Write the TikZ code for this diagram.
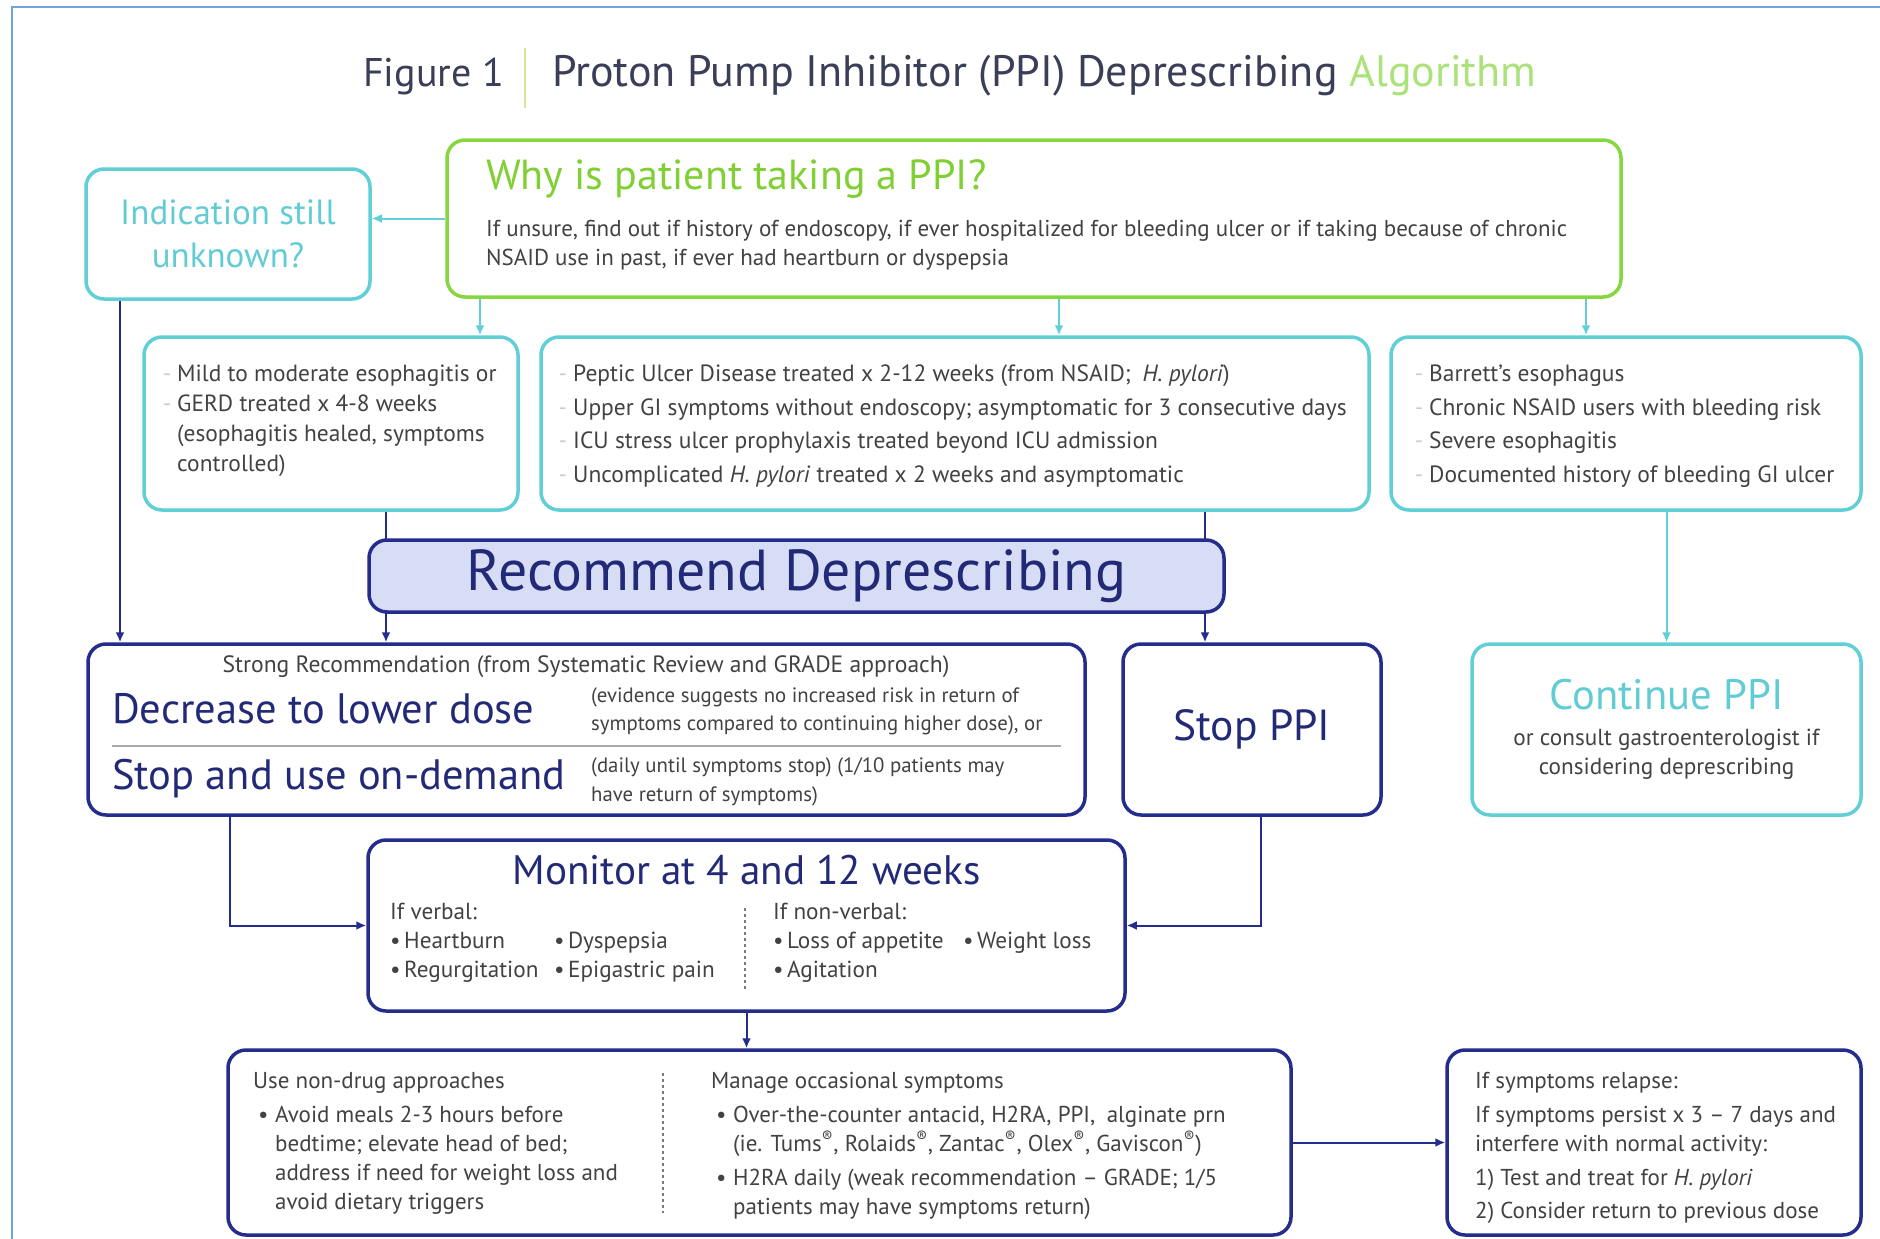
\documentclass[tikz,border=0pt]{standalone}
\usepackage{fontspec}
\setmainfont{PT Sans}
\usetikzlibrary{arrows.meta}
\definecolor{verde}{RGB}{134,214,64}
\definecolor{verdetxt}{RGB}{128,208,52}
\definecolor{cian}{RGB}{96,207,214}
\definecolor{ciantxt}{RGB}{98,204,212}
\definecolor{azul}{RGB}{36,44,140}
\definecolor{azultxt}{RGB}{34,42,120}
\definecolor{lila}{RGB}{216,221,246}
\definecolor{gris}{RGB}{66,66,66}
\definecolor{tenue}{RGB}{205,205,205}
\definecolor{marco}{RGB}{110,165,225}
\definecolor{tinta}{RGB}{58,62,88}
\definecolor{algo}{RGB}{172,226,122}
\definecolor{barra}{RGB}{222,226,150}
\newcommand{\fdash}{\llap{\textcolor{tenue}{-}\hspace{6pt}}}
\newcommand{\bul}[1][14pt]{\makebox[#1][l]{\textbullet}}
\begin{document}
\begin{tikzpicture}[x=1pt,y=-1pt,
    caja/.style={line width=3.5pt,rounded corners=18pt,inner sep=0pt},
    cajaverde/.style={caja,draw=verde},
    cajacian/.style={caja,draw=cian},
    cajaazul/.style={caja,draw=azul},
    texto/.style={text=gris,align=left,inner sep=0pt,font=\fontsize{23}{31}\selectfont},
    titular/.style={inner sep=0pt,text=azultxt,font=\fontsize{42.5}{44}\selectfont},
    flechacian/.style={draw=cian,line width=2pt,-{Latex[length=10pt,width=9pt]}},
    flechaazul/.style={draw=azul,line width=2pt,-{Latex[length=10pt,width=9pt]}}]
    \useasboundingbox (0,0) rectangle (1880,1239);
    \fill[white] (0,0) rectangle (1880,1239);
    \draw[marco,line width=2pt] (12,1239) -- (12,7) -- (1880,7); % marco
    % titulo
    \node[anchor=west,inner sep=0pt,text=tinta,font=\fontsize{40}{44}\selectfont] (fig) at (363,76) {Figure 1};
    \draw[barra,line width=2pt] (525,48) -- (525,108);
    \node[anchor=west,inner sep=0pt,text=tinta,font=\fontsize{44}{46}\selectfont] (nombre) at (552,76) {Proton Pump Inhibitor (PPI) Deprescribing \textcolor{algo}{Algorithm}};
    % pregunta inicial
    \node[cajaverde,minimum width=1174pt,minimum height=157pt] (por) at (1034,218.5) {};
    \node[anchor=west,inner sep=0pt,text=verdetxt,font=\fontsize{42}{44}\selectfont] (porT) at (486,179) {Why is patient taking a PPI?};
    \node[texto,font=\fontsize{23}{29}\selectfont,anchor=west] (porB) at (486,245) {If unsure, find out if history of endoscopy, if ever hospitalized for bleeding ulcer or if taking because of chronic\\NSAID use in past, if ever had heartburn or dyspepsia};
    \node[cajacian,minimum width=284pt,minimum height=130pt,align=center,text=ciantxt,font=\fontsize{35}{43}\selectfont] (duda) at (228,234) {Indication still\\unknown?};
    % indicaciones
    \node[cajacian,minimum width=374pt,minimum height=173pt] (cajaA) at (331,423.5) {};
    \node[texto,font=\fontsize{23.4}{30}\selectfont,anchor=west] (tA) at (177,421) {\fdash Mild to moderate esophagitis or\\\fdash GERD treated x 4-8 weeks\\(esophagitis healed, symptoms\\controlled)};
    \node[cajacian,minimum width=828pt,minimum height=173pt] (cajaB) at (955,423.5) {};
    \node[texto,font=\fontsize{23.5}{33.5}\selectfont,anchor=west] (tB) at (573,426) {\fdash Peptic Ulcer Disease treated x 2-12 weeks (from NSAID;\enspace\textit{H. pylori})\\\fdash Upper GI symptoms without endoscopy; asymptomatic for 3 consecutive days\\\fdash ICU stress ulcer prophylaxis treated beyond ICU admission\\\fdash Uncomplicated \textit{H. pylori} treated x 2 weeks and asymptomatic};
    \node[cajacian,minimum width=470pt,minimum height=173pt] (cajaC) at (1626,423.5) {};
    \node[texto,font=\fontsize{23.5}{33.5}\selectfont,anchor=west] (tC) at (1429,426) {\fdash Barrett's esophagus\\\fdash Chronic NSAID users with bleeding risk\\\fdash Severe esophagitis\\\fdash Documented history of bleeding GI ulcer};
    \coordinate (xA) at (480,0);
    \coordinate (xB) at (1059,0);
    \coordinate (xC) at (1586,0);
    \coordinate (xU) at (120,0);
    \coordinate (xL) at (386,0);
    \coordinate (xR) at (1205,0);
    \coordinate (xM) at (230,0);
    \coordinate (xS) at (1261,0);
    % cajas de decision
    \node[cajaazul,minimum width=997pt,minimum height=171pt] (bajar) at (586.5,729.5) {};
    \node[cajaazul,minimum width=258pt,minimum height=171pt,titular,font=\fontsize{43.5}{45}\selectfont] (parar) at (1252,729.5) {Stop PPI};
    \node[cajacian,minimum width=389pt,minimum height=171pt] (seguir) at (1666.5,729.5) {};
    % flechas
    \draw[flechacian] (por.west) -- (por.west -| duda.east);
    \draw[flechacian] (por.south -| xA) -- (cajaA.north -| xA);
    \draw[flechacian] (por.south -| xB) -- (cajaB.north -| xB);
    \draw[flechacian] (por.south -| xC) -- (cajaC.north -| xC);
    \draw[flechaazul] (duda.south -| xU) -- (bajar.north -| xU);
    \draw[flechaazul] (cajaA.south -| xL) -- (bajar.north -| xL);
    \draw[flechaazul] (cajaB.south -| xR) -- (parar.north -| xR);
    \draw[flechacian] (cajaC.south -| seguir.north) -- (seguir.north);
    \node[caja,draw=azul,fill=lila,minimum width=855pt,minimum height=72pt,titular,font=\fontsize{57.8}{60}\selectfont] (recom) at (796.5,576) {Recommend Deprescribing};
    % textos de bajar dosis
    \node[texto,font=\fontsize{23.6}{29}\selectfont] (fuerte) at (586,667) {Strong Recommendation (from Systematic Review and GRADE approach)};
    \node[titular,anchor=west] (dosis) at (112,709) {Decrease to lower dose};
    \node[texto,font=\fontsize{20.8}{28}\selectfont,anchor=west] (nota1) at (591,711) {(evidence suggests no increased risk in return of\\symptoms compared to continuing higher dose), or};
    \draw[gris!45,line width=2pt] (112,746) -- (1061,746);
    \node[titular,anchor=west] (demanda) at (112,779) {Stop and use on-demand};
    \node[texto,font=\fontsize{20.8}{29}\selectfont,anchor=west] (nota2) at (591,781.5) {(daily until symptoms stop) (1/10 patients may\\have return of symptoms)};
    % continuar
    \node[inner sep=0pt,text=ciantxt,font=\fontsize{42.6}{44}\selectfont] (seguirT) at (1666.5,695) {Continue PPI};
    \node[texto,align=center,font=\fontsize{23.2}{29}\selectfont] (seguirB) at (1666.5,754.5) {or consult gastroenterologist if\\considering deprescribing};
    % monitoreo
    \node[cajaazul,minimum width=757pt,minimum height=171pt] (vigilar) at (746.5,925.5) {};
    \node[titular,font=\fontsize{41.2}{43}\selectfont] (vigilarT) at (746.5,870) {Monitor at 4 and 12 weeks};
    \node[texto,font=\fontsize{23.2}{29}\selectfont,anchor=west] (verbal) at (390,943) {If verbal:\\\makebox[164pt][l]{\bul Heartburn}\bul Dyspepsia\\\makebox[164pt][l]{\bul Regurgitation}\bul Epigastric pain};
    \draw[gris!70,line width=2pt,dashed] (745,908) -- (745,989);
    \node[texto,font=\fontsize{23.2}{29}\selectfont,anchor=west] (noverbal) at (773,943) {If non-verbal:\\\makebox[190pt][l]{\bul Loss of appetite}\bul Weight loss\\\bul Agitation};
    \draw[flechaazul] (bajar.south -| xM) |- (vigilar.west);
    \draw[flechaazul] (parar.south -| xS) |- (vigilar.east);
    % cajas finales
    \node[cajaazul,minimum width=1063pt,minimum height=185pt] (manejo) at (759.5,1142.5) {};
    \node[cajaazul,minimum width=414pt,minimum height=185pt] (recaida) at (1654,1142.5) {};
    \draw[flechaazul] (vigilar.south) -- (vigilar.south |- manejo.north);
    \draw[flechaazul] (manejo.east) -- (recaida.west);
    \node[texto,font=\fontsize{23}{29}\selectfont,anchor=west] (sinfarm) at (253,1143.5) {Use non-drug approaches\\[5pt]\hspace{5pt}\bul[17pt]Avoid meals 2-3 hours before\\\hspace{22pt}bedtime; elevate head of bed;\\\hspace{22pt}address if need for weight loss and\\\hspace{22pt}avoid dietary triggers};
    \draw[gris!70,line width=2pt,dashed] (663,1073) -- (663,1213);
    \node[texto,font=\fontsize{23}{29}\selectfont,anchor=west] (ocasional) at (711,1146) {Manage occasional symptoms\\[5pt]\hspace{5pt}\bul[17pt]Over-the-counter antacid, H2RA, PPI,\enspace alginate prn\\\hspace{22pt}(ie. Tums\textsuperscript{®}, Rolaids\textsuperscript{®}, Zantac\textsuperscript{®}, Olex\textsuperscript{®}, Gaviscon\textsuperscript{®})\\[5pt]\hspace{5pt}\bul[17pt]H2RA daily (weak recommendation -- GRADE; 1/5\\\hspace{22pt}patients may have symptoms return)};
    \node[texto,font=\fontsize{23}{29}\selectfont,anchor=west] (tRecaida) at (1475,1148) {If symptoms relapse:\\[5pt]If symptoms persist x 3 -- 7 days and\\interfere with normal activity:\\[5pt]1) Test and treat for \textit{H. pylori}\\[4pt]2) Consider return to previous dose};
\end{tikzpicture}
\end{document}
